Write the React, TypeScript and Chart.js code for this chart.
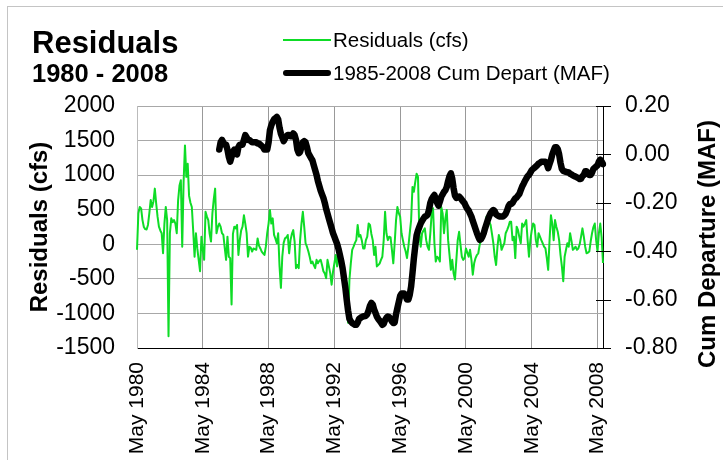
import React, { useEffect, useRef } from "react";
import { Chart, registerables } from "chart.js";

Chart.register(...registerables);

const MONTHS = ["Jan", "Feb", "Mar", "Apr", "May", "Jun", "Jul", "Aug", "Sep", "Oct", "Nov", "Dec"];
const START_YEAR = 1980;
const START_MONTH = 4; // May
const N_MONTHS = 341; // May 1980 .. Sep 2008
const CUM_START = 60; // May 1985

const categories: string[] = [];
for (let i = 0; i < N_MONTHS; i++) {
  const mm = START_MONTH + i;
  categories.push(MONTHS[mm % 12] + " " + (START_YEAR + Math.floor(mm / 12)));
}

const residualsCfs = [
  -80, 450, 540, 520, 350, 250, 220, 215, 280, 450, 640, 540,
  620, 805, 590, 400, 255, 200, 160, -130, 300, 540, 350, -1330,
  160, 375, 320, 350, 300, 160, 640, 850, 925, -35, 900, 1430,
  975, 1165, 700, 600, 540, 200, -180, 160, -60, -225, -390, 110,
  -80, -225, 470, 400, 350, 150, 40, 445, 650, 805, 160, 250,
  300, 255, 160, 135, -50, -225, 110, -180, -200, -870, 150, 255,
  230, 280, -155, 60, 200, 255, 420, 300, 160, -180, -35, -50,
  -105, -60, -70, -80, 85, -20, -60, -105, -130, -155, -35, 160,
  300, 495, 300, 375, 135, 80, 15, 160, -320, -630, -180, 20,
  85, 100, 135, -130, 60, 150, 205, 40, -345, -300, -345, 60,
  300, 470, 255, 15, -35, -100, -180, -275, -250, -300, -345, -225,
  -275, -240, -225, -300, -390, -420, -490, -225, -320, -420, -585, -400,
  -275, -155, -320, -180, -220, -250, -420, -510, -610, -800, -1135, -510,
  -275, -80, -35, 20, 60, 280, 110, 135, 60, -60, -60, 60,
  110, 300, 280, 150, 60, -155, -35, -320, -300, -280, -225, -180,
  60, 470, 160, 60, 110, 100, -80, -275, 15, 350, 540, 450,
  400, 160, 60, -35, -100, -200, -35, 160, 350, 830, 760, 900,
  1020, 975, 160, -35, 160, 200, 230, 60, -35, -80, 160, 445,
  520, 15, -250, -180, -200, -250, 540, 445, 160, 375, 495, 60,
  -150, -370, -225, -420, -510, -225, 60, 180, 0, -180, -225, -200,
  -60, -120, -180, -80, -225, -440, -275, -200, -155, -130, -10, 60,
  120, 180, 230, 400, 350, 325, 280, 150, 15, -180, -300, -35,
  135, 60, -80, -30, 15, 160, 205, 255, 325, 325, 60, 110,
  -200, 255, 205, 100, 15, 300, 255, 300, 350, 60, -180, 60,
  200, 300, 280, 60, -35, 160, 110, 60, 15, -35, -60, -200,
  -370, 60, 420, 300, 60, 350, 250, 180, 60, -155, -320, -535,
  -180, -80, 15, -35, 160, 50, -80, -60, -35, -80, -60, 0,
  110, 230, 110, -35, -130, -120, -105, 40, 160, 250, 300, 60,
  -100, 160, 300, 100, -270,
];

const cumDepartMaf = [
  0.02, 0.05, 0.06, 0.05, 0.04, 0.04, 0.02, -0.01, -0.03, -0.01, 0.01, 0.02,
  0.01, 0.0, 0.03, 0.04, 0.04, 0.04, 0.06, 0.08, 0.07, 0.06, 0.06, 0.055,
  0.05, 0.05, 0.05, 0.05, 0.045, 0.045, 0.04, 0.035, 0.03, 0.02, 0.02, 0.02,
  0.05, 0.1, 0.12, 0.135, 0.145, 0.15, 0.155, 0.145, 0.11, 0.085, 0.07, 0.055,
  0.065, 0.075, 0.08, 0.08, 0.075, 0.075, 0.087, 0.08, 0.06, 0.02, 0.005, 0.01,
  0.03, 0.05, 0.055, 0.05, 0.03, 0.005, -0.005, -0.015, -0.025, -0.045, -0.065, -0.085,
  -0.11, -0.13, -0.15, -0.165, -0.18, -0.2, -0.225, -0.245, -0.265, -0.285, -0.305, -0.325,
  -0.34, -0.355, -0.37, -0.39, -0.415, -0.44, -0.47, -0.51, -0.55, -0.6, -0.645, -0.68,
  -0.69, -0.697, -0.7, -0.704, -0.704, -0.695, -0.68, -0.676, -0.672, -0.669, -0.669, -0.667,
  -0.66, -0.645, -0.625, -0.614, -0.62, -0.64, -0.655, -0.67, -0.68, -0.687, -0.695, -0.704,
  -0.7, -0.685, -0.675, -0.67, -0.672, -0.68, -0.69, -0.697, -0.695, -0.66, -0.635, -0.61,
  -0.585, -0.575, -0.575, -0.575, -0.585, -0.6, -0.6, -0.58, -0.546, -0.49, -0.43, -0.38,
  -0.335, -0.315, -0.3, -0.285, -0.275, -0.265, -0.257, -0.255, -0.25, -0.23, -0.2, -0.185,
  -0.175, -0.168, -0.185, -0.2, -0.212, -0.195, -0.175, -0.165, -0.155, -0.148, -0.135, -0.11,
  -0.09, -0.078, -0.1, -0.14, -0.17, -0.18, -0.178, -0.174, -0.18, -0.188, -0.195, -0.202,
  -0.215, -0.225, -0.232, -0.245, -0.257, -0.275, -0.291, -0.308, -0.325, -0.34, -0.353, -0.35,
  -0.34, -0.325, -0.305, -0.288, -0.27, -0.255, -0.243, -0.235, -0.23, -0.235, -0.248, -0.252,
  -0.255, -0.257, -0.257, -0.257, -0.252, -0.245, -0.232, -0.215, -0.205, -0.205, -0.2, -0.19,
  -0.182, -0.178, -0.17, -0.163, -0.148, -0.133, -0.122, -0.11, -0.1, -0.09, -0.085, -0.075,
  -0.065, -0.06, -0.055, -0.05, -0.045, -0.038, -0.035, -0.03, -0.03, -0.03, -0.03, -0.04,
  -0.057, -0.04, -0.023, 0.0, 0.015, 0.03, 0.03, 0.022, 0.0, -0.035, -0.06, -0.068,
  -0.07, -0.072, -0.074, -0.075, -0.08, -0.083, -0.087, -0.09, -0.092, -0.095, -0.098, -0.102,
  -0.1, -0.09, -0.085, -0.07, -0.07, -0.08, -0.085, -0.085, -0.075, -0.06, -0.055, -0.05,
  -0.045, -0.03, -0.022, -0.03, -0.04,
];

const leftTicks = { min: -1500, max: 2000, step: 500 };
const rightTicks = { min: -0.8, max: 0.2, step: 0.2 };

const GREEN = "#0edc26";
const FONT = "'Liberation Sans', Arial, sans-serif";

const W = 723;
const H = 460;

const rightTickPlugin = {
  id: "rightTickMarks",
  afterDraw(chart: any) {
    const s = chart.scales.y1;
    const ctx = chart.ctx;
    const x = chart.chartArea.right;
    ctx.save();
    ctx.strokeStyle = "#000";
    ctx.lineWidth = 1;
    s.ticks.forEach((t: any) => {
      const y = Math.round(s.getPixelForValue(t.value)) + 0.5;
      ctx.beginPath();
      ctx.moveTo(x - 7, y);
      ctx.lineTo(x + 8, y);
      ctx.stroke();
    });
    ctx.restore();
  },
};

export default function App() {
  const ref = useRef<HTMLCanvasElement | null>(null);

  useEffect(() => {
    if (!ref.current) return;
    const cum = new Array(CUM_START).fill(null).concat(cumDepartMaf);
    const chart = new Chart(ref.current, {
      type: "line",
      data: {
        labels: categories,
        datasets: [
          {
            label: "1985-2008 Cum Depart (MAF)",
            data: cum,
            borderColor: "#000",
            borderWidth: 6.5,
            pointRadius: 0,
            yAxisID: "y1",
            borderCapStyle: "round",
            borderJoinStyle: "round",
            order: 1,
          },
          {
            label: "Residuals (cfs)",
            data: residualsCfs,
            borderColor: GREEN,
            borderWidth: 2,
            pointRadius: 0,
            yAxisID: "y",
            borderJoinStyle: "round",
            order: 2,
          },
        ],
      },
      options: {
        animation: false,
        responsive: false,
        maintainAspectRatio: false,
        layout: { padding: { top: 106, left: 0, right: 0, bottom: 0 } },
        plugins: { legend: { display: false }, tooltip: { enabled: false }, title: { display: false } },
        scales: {
          x: {
            type: "category",
            offset: false,
            grid: { color: "#999", drawTicks: false, offset: false },
            border: { color: "#000", width: 1 },
            ticks: {
              autoSkip: false,
              maxRotation: 90,
              minRotation: 90,
              padding: 14,
              color: "#000",
              font: { family: FONT, size: 21 },
              callback: (_v: any, i: number) => (i % 48 === 0 ? categories[i] : null),
            },
            afterFit: (s: any) => {
              s.height = 112;
            },
          },
          y: {
            position: "left",
            min: leftTicks.min,
            max: leftTicks.max,
            grid: { color: "#a8a8a8", drawTicks: false },
            border: { color: "#bbb" },
            ticks: {
              stepSize: leftTicks.step,
              padding: 22,
              color: "#000",
              font: { family: FONT, size: 23 },
              callback: (v: any) => String(v),
            },
            title: {
              display: true,
              text: "Residuals (cfs)",
              color: "#000",
              font: { family: FONT, size: 24, weight: "bold", lineHeight: 1.2 },
              padding: { top: 26, bottom: 0 },
            },
            afterFit: (s: any) => {
              s.width = 137;
            },
          },
          y1: {
            position: "right",
            min: rightTicks.min,
            max: rightTicks.max,
            grid: { display: false, drawTicks: false, drawOnChartArea: false },
            border: { color: "#000" },
            ticks: {
              stepSize: rightTicks.step,
              padding: 22,
              color: "#000",
              font: { family: FONT, size: 23 },
              callback: (v: any) => (Math.abs(Number(v)) < 1e-9 ? "0.00" : Number(v).toFixed(2)),
            },
            afterFit: (s: any) => {
              s.width = 120;
            },
          },
        },
      },
      plugins: [rightTickPlugin],
    } as any);
    return () => chart.destroy();
  }, []);

  const text = (style: React.CSSProperties, s: string) => (
    <div style={{ position: "absolute", whiteSpace: "nowrap", fontFamily: FONT, color: "#000", lineHeight: 1, ...style }}>{s}</div>
  );

  return (
    <div style={{ position: "absolute", left: 0, top: 0, width: W, height: H, background: "#fff", overflow: "hidden" }}>
      <div style={{ position: "absolute", left: 7, top: 6, width: W, height: H, borderTop: "1px solid #c4c4c4", borderLeft: "1px solid #c4c4c4" }} />
      <canvas ref={ref} width={W} height={H} style={{ position: "absolute", left: 0, top: 0, width: W, height: H }} />
      {text({ left: 32, top: 27, fontSize: 31, fontWeight: "bold" }, "Residuals")}
      {text({ left: 32, top: 61, fontSize: 25.5, fontWeight: "bold" }, "1980 - 2008")}
      <div style={{ position: "absolute", left: 283, top: 39, width: 48, height: 2, background: GREEN }} />
      {text({ left: 333, top: 30, fontSize: 20.5 }, "Residuals (cfs)")}
      <div style={{ position: "absolute", left: 283, top: 70, width: 48, height: 6, borderRadius: 3, background: "#000" }} />
      {text({ left: 333, top: 63, fontSize: 20.5 }, "1985-2008 Cum Depart (MAF)")}
      {text({ left: 707, top: 244, fontSize: 24, fontWeight: "bold", transform: "translate(-50%, -50%) rotate(-90deg)" }, "Cum Departure (MAF)")}
    </div>
  );
}
